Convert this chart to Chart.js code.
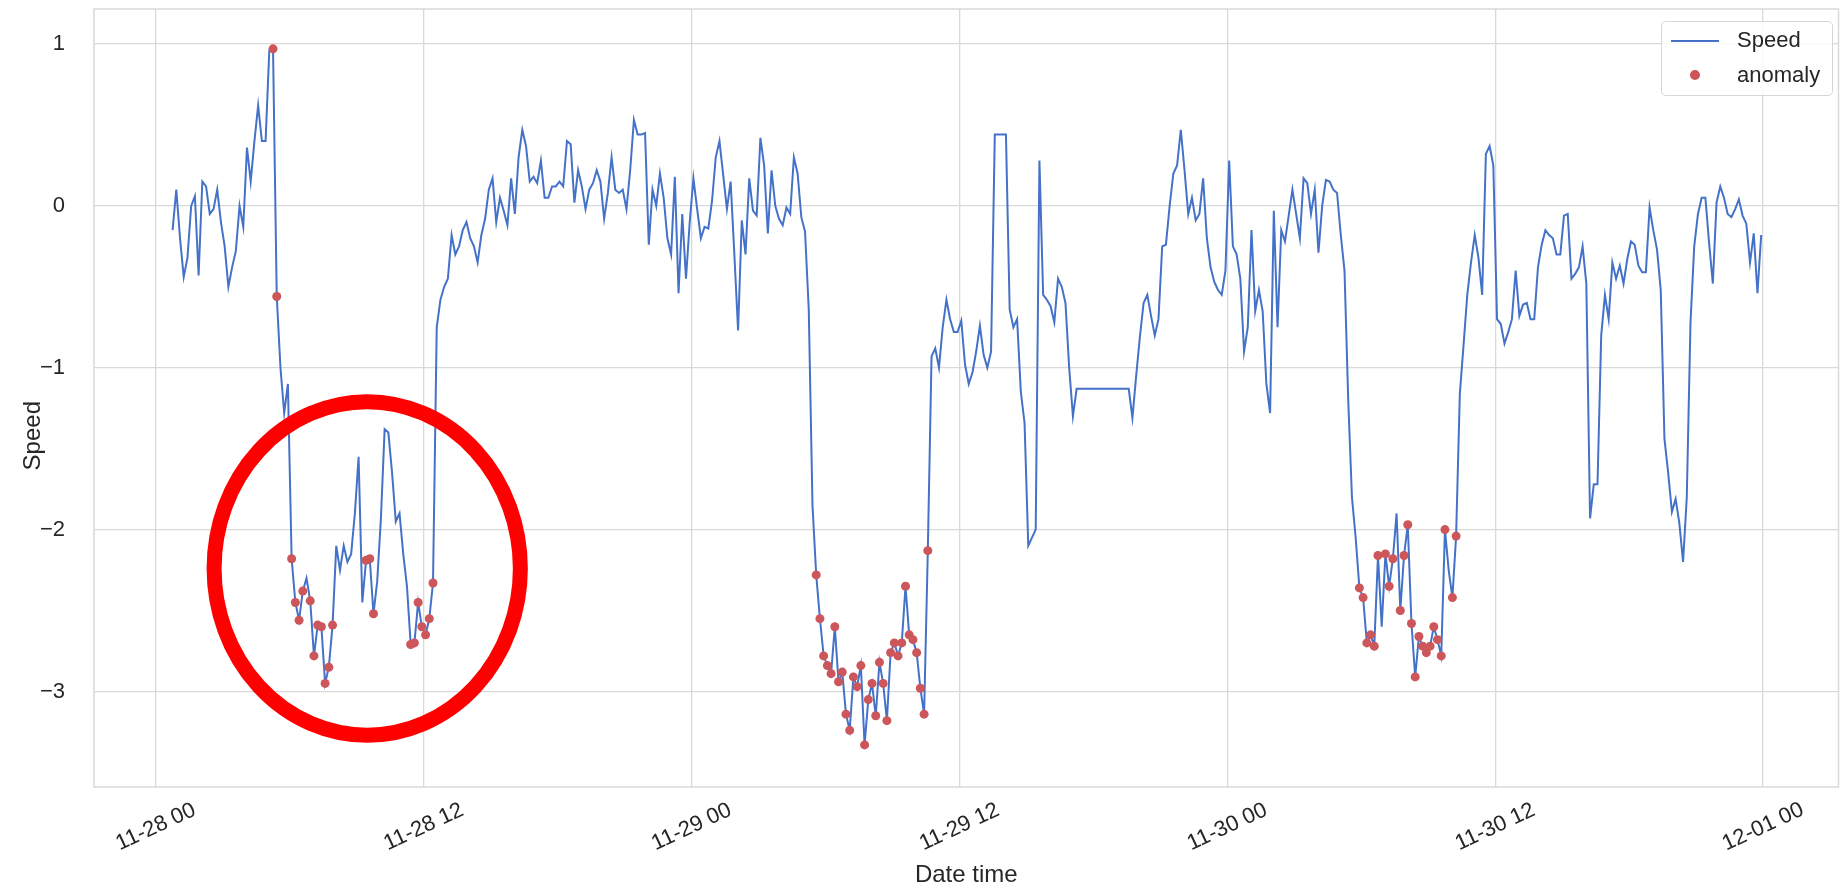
<!DOCTYPE html>
<html>
<head>
<meta charset="utf-8">
<script src="https://cdn.jsdelivr.net/npm/chart.js@4.4.1/dist/chart.umd.min.js"></script>
<style>
  html, body { margin: 0; padding: 0; background: #fff; }
  #wrap { position: relative; width: 1843px; height: 891px; }
  #legend {
    position: absolute; left: 1661px; top: 21px; width: 172px; height: 75px;
    box-sizing: border-box; border: 1px solid #d6d6d6; border-radius: 5px;
    background: rgba(255,255,255,0.85);
    font-family: 'Liberation Sans', Arial, sans-serif; font-size: 22px; color: #262626;
  }
  #legend .txt { position: absolute; left: 75px; line-height: 24px; }
  #legend .ln  { position: absolute; left: 9px; top: 18px; width: 48px; height: 2px; background: #4472c8; }
  #legend .dot { position: absolute; left: 28px; top: 48px; width: 10px; height: 10px; border-radius: 50%; background: #cc5659; }
</style>
</head>
<body>
<div id="wrap">
  <canvas id="chart" width="1843" height="891"></canvas>
  <div id="legend">
    <div class="ln"></div><div class="txt" style="top:6px">Speed</div>
    <div class="dot"></div><div class="txt" style="top:41px">anomaly</div>
  </div>
</div>
<script>
// ── DATA ──
const START_HOUR = 0.75;   // first sample 11-28 00:45
const STEP_HOUR  = 1 / 6;  // one sample every 10 minutes

const speed = [
  -0.15, 0.10, -0.20, -0.44, -0.32, 0.00, 0.06, -0.43, 0.15, 0.12,
  -0.05, -0.02, 0.10, -0.10, -0.25, -0.50, -0.38, -0.28, 0.00, -0.13,
  0.36, 0.15, 0.40, 0.62, 0.40, 0.40, 0.96, 0.97, -0.56, -1.00,
  -1.28, -1.10, -2.18, -2.45, -2.56, -2.38, -2.30, -2.44, -2.78, -2.59,
  -2.60, -2.95, -2.85, -2.59, -2.10, -2.25, -2.10, -2.20, -2.15, -1.90,
  -1.55, -2.45, -2.19, -2.18, -2.52, -2.32, -1.93, -1.38, -1.40, -1.65,
  -1.95, -1.90, -2.15, -2.35, -2.71, -2.70, -2.45, -2.60, -2.65, -2.55,
  -2.33, -0.75, -0.58, -0.50, -0.45, -0.18, -0.30, -0.25, -0.15, -0.10,
  -0.20, -0.25, -0.35, -0.18, -0.08, 0.10, 0.17, -0.10, 0.05, -0.03,
  -0.12, 0.17, -0.05, 0.30, 0.47, 0.37, 0.15, 0.18, 0.14, 0.28,
  0.05, 0.05, 0.12, 0.12, 0.15, 0.12, 0.40, 0.38, 0.02, 0.22,
  0.12, -0.02, 0.10, 0.14, 0.22, 0.15, -0.08, 0.08, 0.30, 0.10,
  0.08, 0.10, -0.02, 0.22, 0.53, 0.44, 0.44, 0.45, -0.24, 0.10,
  0.00, 0.20, 0.05, -0.20, -0.30, 0.18, -0.54, -0.05, -0.45, -0.10,
  0.17, -0.02, -0.20, -0.13, -0.14, 0.03, 0.30, 0.40, 0.19, -0.02,
  0.15, -0.30, -0.77, -0.09, -0.30, 0.17, -0.03, -0.06, 0.42, 0.25,
  -0.17, 0.22, 0.00, -0.08, -0.12, -0.01, -0.05, 0.30, 0.20, -0.07,
  -0.16, -0.64, -1.85, -2.28, -2.55, -2.78, -2.84, -2.89, -2.60, -2.94,
  -2.88, -3.14, -3.24, -2.91, -2.97, -2.84, -3.33, -3.05, -2.95, -3.15,
  -2.82, -2.95, -3.18, -2.76, -2.70, -2.78, -2.70, -2.35, -2.65, -2.68,
  -2.76, -2.98, -3.14, -2.13, -0.93, -0.88, -1.00, -0.75, -0.58, -0.70,
  -0.78, -0.78, -0.71, -0.98, -1.10, -1.03, -0.90, -0.74, -0.92, -1.00,
  -0.90, 0.44, 0.44, 0.44, 0.44, -0.64, -0.75, -0.70, -1.15, -1.34,
  -2.10, -2.05, -2.00, 0.28, -0.55, -0.58, -0.62, -0.72, -0.45, -0.50,
  -0.60, -1.00, -1.30, -1.13, -1.13, -1.13, -1.13, -1.13, -1.13, -1.13,
  -1.13, -1.13, -1.13, -1.13, -1.13, -1.13, -1.13, -1.13, -1.31, -1.05,
  -0.81, -0.60, -0.55, -0.68, -0.80, -0.70, -0.25, -0.24, 0.00, 0.20,
  0.25, 0.47, 0.22, -0.05, 0.05, -0.09, -0.05, 0.17, -0.20, -0.38,
  -0.47, -0.52, -0.55, -0.40, 0.28, -0.25, -0.30, -0.45, -0.90, -0.75,
  -0.15, -0.65, -0.52, -0.65, -1.10, -1.28, -0.03, -0.75, -0.15, -0.22,
  -0.06, 0.10, -0.05, -0.20, 0.17, 0.14, -0.05, 0.10, -0.29, 0.00,
  0.16, 0.15, 0.10, 0.08, -0.18, -0.40, -1.20, -1.80, -2.05, -2.36,
  -2.42, -2.70, -2.65, -2.72, -2.16, -2.60, -2.15, -2.35, -2.18, -1.90,
  -2.50, -2.16, -1.97, -2.58, -2.91, -2.66, -2.72, -2.76, -2.72, -2.60,
  -2.68, -2.78, -2.00, -2.25, -2.42, -2.04, -1.16, -0.86, -0.55, -0.35,
  -0.18, -0.32, -0.55, 0.32, 0.37, 0.25, -0.70, -0.73, -0.85, -0.78,
  -0.70, -0.40, -0.68, -0.61, -0.60, -0.70, -0.70, -0.38, -0.24, -0.15,
  -0.18, -0.20, -0.30, -0.30, -0.06, -0.05, -0.45, -0.42, -0.38, -0.25,
  -0.48, -1.93, -1.72, -1.72, -0.80, -0.55, -0.70, -0.35, -0.45, -0.37,
  -0.48, -0.33, -0.22, -0.24, -0.37, -0.41, -0.41, -0.01, -0.15, -0.27,
  -0.52, -1.44, -1.65, -1.89, -1.81, -1.96, -2.20, -1.80, -0.72, -0.25,
  -0.05, 0.05, 0.05, -0.23, -0.48, 0.02, 0.12, 0.05, -0.05, -0.07,
  -0.02, 0.04, -0.06, -0.11, -0.35, -0.17, -0.54, -0.18
];

// sample indices flagged as anomalies
const anomalyIdx = [
  27, 28, 32, 33, 34, 35, 37, 38, 39, 40, 41, 42, 43, 52, 53, 54,
  64, 65, 66, 67, 68, 69, 70,
  173, 174, 175, 176, 177, 178, 179, 180, 181, 182, 183, 184, 185, 186, 187,
  188, 189, 190, 191, 192, 193, 194, 195, 196, 197, 198, 199, 200, 201, 202, 203,
  319, 320, 321, 322, 323, 324, 326, 327, 328, 330, 331, 332, 333, 334, 335,
  336, 337, 338, 339, 340, 341, 342, 344, 345
];

const TICK_HOURS  = [0, 12, 24, 36, 48, 60, 72];
const TICK_LABELS = ['11-28 00', '11-28 12', '11-29 00', '11-29 12', '11-30 00', '11-30 12', '12-01 00'];
const Y_TICKS     = [-3, -2, -1, 0, 1];

// ── STYLE ──
const FONT  = "'Liberation Sans', Arial, sans-serif";
const TEXT  = '#262626';
const GRID  = '#d9d9d9';
const BLUE  = '#4472c8';
const RED   = '#cc5659';
const CIRCLE = { hour: 9.47, speed: -2.24, rHour: 6.86, rSpeed: 1.03 };

const hourOf = i => START_HOUR + i * STEP_HOUR;
const lineData = speed.map((v, i) => ({ x: hourOf(i), y: v }));
const anomalyData = anomalyIdx.map(i => ({ x: hourOf(i), y: speed[i] }));

// frame, rotated x labels, y title and the red hand-drawn circle
const overlay = {
  id: 'overlay',
  beforeDatasetsDraw(chart) {
    const { ctx, chartArea: a } = chart;
    ctx.save();
    ctx.strokeStyle = GRID;
    ctx.lineWidth = 1.5;
    ctx.strokeRect(a.left, a.top, a.right - a.left, a.bottom - a.top);
    ctx.restore();
  },
  afterDraw(chart) {
    const { ctx, scales: { x, y } } = chart;
    ctx.save();
    ctx.font = `22px ${FONT}`;
    ctx.fillStyle = TEXT;
    ctx.textAlign = 'center';
    ctx.textBaseline = 'middle';
    TICK_HOURS.forEach((h, i) => {
      ctx.save();
      ctx.translate(x.getPixelForValue(h), x.top + 40);
      ctx.rotate(-25 * Math.PI / 180);
      ctx.fillText(TICK_LABELS[i], 0, 0);
      ctx.restore();
    });

    // y axis title, sitting a little below the axis middle as in the source
    ctx.save();
    ctx.font = `24px ${FONT}`;
    ctx.translate(33, y.getPixelForValue(-1.42));
    ctx.rotate(-Math.PI / 2);
    ctx.fillText('Speed', 0, 0);
    ctx.restore();

    const cx = x.getPixelForValue(CIRCLE.hour);
    const cy = y.getPixelForValue(CIRCLE.speed);
    const rx = x.getPixelForValue(CIRCLE.hour + CIRCLE.rHour) - cx;
    const ry = cy - y.getPixelForValue(CIRCLE.speed + CIRCLE.rSpeed);
    ctx.beginPath();
    ctx.ellipse(cx, cy, rx, ry, 0, 0, 2 * Math.PI);
    ctx.strokeStyle = '#ff0000';
    ctx.lineWidth = 15;
    ctx.stroke();
    ctx.restore();
  },
};

new Chart(document.getElementById('chart'), {
  type: 'line',
  data: {
    datasets: [
      {
        type: 'scatter',
        label: 'anomaly',
        data: anomalyData,
        order: 0,
        pointRadius: 4.5,
        pointBackgroundColor: RED,
        pointBorderWidth: 0,
      },
      {
        label: 'Speed',
        data: lineData,
        order: 1,
        borderColor: BLUE,
        borderWidth: 2,
        pointRadius: 0,
        tension: 0,
      },
    ],
  },
  options: {
    responsive: false,
    animation: false,
    layout: { padding: { top: 9, right: 0, left: 0, bottom: 0 } },
    plugins: { legend: { display: false }, tooltip: { enabled: false } },
    scales: {
      x: {
        type: 'linear',
        min: -2.77,
        max: 75.38,
        afterBuildTicks: s => { s.ticks = TICK_HOURS.map(v => ({ value: v })); },
        afterFit: s => { s.height = 104; s.paddingLeft = 0; s.paddingRight = 0; },
        ticks: { display: false },
        grid: { color: GRID, lineWidth: 1.3, drawTicks: false },
        border: { display: false },
        title: {
          display: true,
          text: 'Date time',
          color: TEXT,
          font: { family: FONT, size: 24 },
          padding: { top: 0, bottom: 1 },
        },
      },
      y: {
        min: -3.59,
        max: 1.216,
        afterBuildTicks: s => { s.ticks = Y_TICKS.map(v => ({ value: v })); },
        afterFit: s => { s.width = 94; s.paddingTop = 0; s.paddingBottom = 0; },
        ticks: {
          color: TEXT,
          padding: 29,
          font: { family: FONT, size: 22 },
          callback: v => String(v).replace('-', '\u2212'),
        },
        grid: { color: GRID, lineWidth: 1.3, drawTicks: false },
        border: { display: false },
        title: { display: false },
      },
    },
  },
  plugins: [overlay],
});
</script>
</body>
</html>
